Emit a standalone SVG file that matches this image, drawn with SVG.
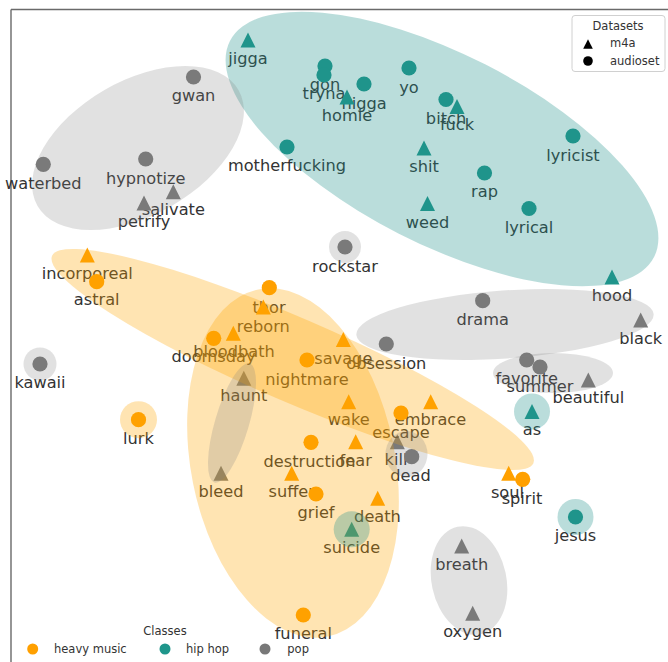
<svg xmlns="http://www.w3.org/2000/svg" xmlns:xlink="http://www.w3.org/1999/xlink" width="668" height="662" viewBox="0 0 668 662">
<style>
text{font-family:"DejaVu Sans","Liberation Sans",sans-serif;}
.lbl{font-size:16.2px;fill:#333;text-anchor:middle;}
.leg{font-size:11.5px;fill:#333;}
.hm{fill:#ffa000;}
.hh{fill:#1f968b;}
.pp{fill:#787878;}
.eo{fill:#ffa500;fill-opacity:0.3;}
.et{fill:#21918c;fill-opacity:0.31;}
.eg{fill:#808080;fill-opacity:0.24;}
</style>
<defs>
<path id="tri" d="M0,-7.5 L7.5,7.5 L-7.5,7.5Z"/>
<circle id="dot" r="7.6"/>
</defs>
<rect width="668" height="662" fill="#fff"/>
<path d="M11,9.5 H668 M11,9.5 V662" stroke="#6a6a6a" stroke-width="1.4" fill="none"/>

<g id="nodes">
<!-- hip hop -->
<g id="n-jigga"><use xlink:href="#tri" x="248" y="40" class="hh"/><text class="lbl" x="248" y="64">jigga</text></g>
<g id="n-gon"><use xlink:href="#dot" x="325" y="66" class="hh"/><text class="lbl" x="325" y="90">gon</text></g>
<g id="n-tryna"><use xlink:href="#dot" x="324" y="75" class="hh"/><text class="lbl" x="324" y="99">tryna</text></g>
<g id="n-nigga"><use xlink:href="#dot" x="364" y="84" class="hh"/><text class="lbl" x="364" y="108.5">nigga</text></g>
<g id="n-homie"><use xlink:href="#tri" x="347" y="97" class="hh"/><text class="lbl" x="347" y="121">homie</text></g>
<g id="n-yo"><use xlink:href="#dot" x="409" y="68" class="hh"/><text class="lbl" x="409" y="92.5">yo</text></g>
<g id="n-bitch"><use xlink:href="#dot" x="446" y="99.5" class="hh"/><text class="lbl" x="446" y="124">bitch</text></g>
<g id="n-fuck"><use xlink:href="#tri" x="457" y="106.5" class="hh"/><text class="lbl" x="457" y="130">fuck</text></g>
<g id="n-motherfucking"><use xlink:href="#dot" x="287" y="147" class="hh"/><text class="lbl" x="287" y="171">motherfucking</text></g>
<g id="n-shit"><use xlink:href="#tri" x="424" y="148" class="hh"/><text class="lbl" x="424" y="172">shit</text></g>
<g id="n-lyricist"><use xlink:href="#dot" x="573" y="136" class="hh"/><text class="lbl" x="573" y="160.5">lyricist</text></g>
<g id="n-rap"><use xlink:href="#dot" x="484.5" y="173" class="hh"/><text class="lbl" x="484.5" y="197">rap</text></g>
<g id="n-weed"><use xlink:href="#tri" x="427.5" y="203.5" class="hh"/><text class="lbl" x="427.5" y="227.5">weed</text></g>
<g id="n-lyrical"><use xlink:href="#dot" x="529" y="208.5" class="hh"/><text class="lbl" x="529" y="232.5">lyrical</text></g>
<g id="n-hood"><use xlink:href="#tri" x="612" y="277" class="hh"/><text class="lbl" x="612" y="301">hood</text></g>
<g id="n-as"><use xlink:href="#tri" x="532" y="411.5" class="hh"/><text class="lbl" x="532" y="435">as</text></g>
<g id="n-jesus"><use xlink:href="#dot" x="575.5" y="517" class="hh"/><text class="lbl" x="575.5" y="540.5">jesus</text></g>
<g id="n-suicide"><use xlink:href="#tri" x="351.7" y="529.3" class="hh"/><text class="lbl" x="351.7" y="553">suicide</text></g>
<!-- pop -->
<g id="n-gwan"><use xlink:href="#dot" x="193.5" y="77" class="pp"/><text class="lbl" x="193.5" y="101">gwan</text></g>
<g id="n-waterbed"><use xlink:href="#dot" x="43.3" y="164.3" class="pp"/><text class="lbl" x="43.3" y="189">waterbed</text></g>
<g id="n-hypnotize"><use xlink:href="#dot" x="145.7" y="159" class="pp"/><text class="lbl" x="145.7" y="183.5">hypnotize</text></g>
<g id="n-salivate"><use xlink:href="#tri" x="173.3" y="191.7" class="pp"/><text class="lbl" x="173.3" y="215">salivate</text></g>
<g id="n-petrify"><use xlink:href="#tri" x="144" y="203" class="pp"/><text class="lbl" x="144" y="227">petrify</text></g>
<g id="n-rockstar"><use xlink:href="#dot" x="345" y="247" class="pp"/><text class="lbl" x="345" y="271.5">rockstar</text></g>
<g id="n-drama"><use xlink:href="#dot" x="482.7" y="300.7" class="pp"/><text class="lbl" x="482.7" y="325">drama</text></g>
<g id="n-black"><use xlink:href="#tri" x="640.7" y="320" class="pp"/><text class="lbl" x="640.7" y="344">black</text></g>
<g id="n-obsession"><use xlink:href="#dot" x="386.3" y="344" class="pp"/><text class="lbl" x="386.3" y="368.5">obsession</text></g>
<g id="n-kawaii"><use xlink:href="#dot" x="40" y="364" class="pp"/><text class="lbl" x="40" y="388">kawaii</text></g>
<g id="n-favorite"><use xlink:href="#dot" x="526.7" y="360" class="pp"/><text class="lbl" x="526.7" y="384">favorite</text></g>
<g id="n-summer"><use xlink:href="#dot" x="540" y="367" class="pp"/><text class="lbl" x="540" y="391.5">summer</text></g>
<g id="n-beautiful"><use xlink:href="#tri" x="588.3" y="380" class="pp"/><text class="lbl" x="588.3" y="403">beautiful</text></g>
<g id="n-haunt"><use xlink:href="#tri" x="243.8" y="378.3" class="pp"/><text class="lbl" x="243.8" y="401">haunt</text></g>
<g id="n-kill"><use xlink:href="#tri" x="397.3" y="441.7" class="pp"/><text class="lbl" x="396" y="464.5">kill</text></g>
<g id="n-dead"><use xlink:href="#dot" x="411.7" y="456.7" class="pp"/><text class="lbl" x="410.5" y="481">dead</text></g>
<g id="n-bleed"><use xlink:href="#tri" x="221" y="473.3" class="pp"/><text class="lbl" x="221" y="497">bleed</text></g>
<g id="n-breath"><use xlink:href="#tri" x="461.7" y="546" class="pp"/><text class="lbl" x="461.7" y="570">breath</text></g>
<g id="n-oxygen"><use xlink:href="#tri" x="472.7" y="613.3" class="pp"/><text class="lbl" x="472.7" y="637">oxygen</text></g>
<!-- heavy music -->
<g id="n-incorporeal"><use xlink:href="#tri" x="87.3" y="255" class="hm"/><text class="lbl" x="87.3" y="278.5">incorporeal</text></g>
<g id="n-astral"><use xlink:href="#dot" x="96.7" y="281.7" class="hm"/><text class="lbl" x="96.7" y="305">astral</text></g>
<g id="n-thor"><use xlink:href="#dot" x="269.3" y="287.7" class="hm"/><text class="lbl" x="269" y="313">thor</text></g>
<g id="n-reborn"><use xlink:href="#tri" x="263.3" y="307" class="hm"/><text class="lbl" x="263.3" y="331.5">reborn</text></g>
<g id="n-bloodbath"><use xlink:href="#tri" x="233.3" y="333.3" class="hm"/><text class="lbl" x="234" y="357">bloodbath</text></g>
<g id="n-doomsday"><use xlink:href="#dot" x="213.7" y="338.3" class="hm"/><text class="lbl" x="213.5" y="362">doomsday</text></g>
<g id="n-savage"><use xlink:href="#tri" x="343.3" y="339.5" class="hm"/><text class="lbl" x="343.3" y="364">savage</text></g>
<g id="n-nightmare"><use xlink:href="#dot" x="307" y="360" class="hm"/><text class="lbl" x="307" y="385">nightmare</text></g>
<g id="n-wake"><use xlink:href="#tri" x="348.7" y="401.7" class="hm"/><text class="lbl" x="348.7" y="425">wake</text></g>
<g id="n-embrace"><use xlink:href="#tri" x="430.7" y="401.7" class="hm"/><text class="lbl" x="430.5" y="424.5">embrace</text></g>
<g id="n-escape"><use xlink:href="#dot" x="401" y="413" class="hm"/><text class="lbl" x="401" y="437.5">escape</text></g>
<g id="n-lurk"><use xlink:href="#dot" x="138.5" y="419.7" class="hm"/><text class="lbl" x="138.5" y="444">lurk</text></g>
<g id="n-destruction"><use xlink:href="#dot" x="311" y="442.3" class="hm"/><text class="lbl" x="309.5" y="466.7">destruction</text></g>
<g id="n-fear"><use xlink:href="#tri" x="355.7" y="441.7" class="hm"/><text class="lbl" x="355.7" y="465.5">fear</text></g>
<g id="n-suffer"><use xlink:href="#tri" x="291.7" y="473.3" class="hm"/><text class="lbl" x="291.7" y="497">suffer</text></g>
<g id="n-grief"><use xlink:href="#dot" x="316" y="494" class="hm"/><text class="lbl" x="316" y="518">grief</text></g>
<g id="n-death"><use xlink:href="#tri" x="377.7" y="498.3" class="hm"/><text class="lbl" x="377.5" y="522">death</text></g>
<g id="n-soul"><use xlink:href="#tri" x="508.7" y="473.3" class="hm"/><text class="lbl" x="507.5" y="497.5">soul</text></g>
<g id="n-spirit"><use xlink:href="#dot" x="522.7" y="479.3" class="hm"/><text class="lbl" x="522" y="503.5">spirit</text></g>
<g id="n-funeral"><use xlink:href="#dot" x="303.3" y="615" class="hm"/><text class="lbl" x="303.3" y="639">funeral</text></g>
</g>

<g id="connectors"></g>

<g id="clusters">
<ellipse class="et" cx="442" cy="149" rx="238" ry="95" transform="rotate(27 442 149)"/>
<ellipse class="eg" cx="138" cy="148" rx="116" ry="67" transform="rotate(-30 138 148)"/>
<ellipse class="eo" cx="292.7" cy="359.5" rx="262" ry="42" transform="rotate(23.3 292.7 359.5)"/>
<ellipse class="eo" cx="293" cy="463" rx="102" ry="177" transform="rotate(-11.3 293 463)"/>
<ellipse class="eg" cx="232" cy="423" rx="17" ry="62" transform="rotate(16.5 232 423)"/>
<ellipse class="eg" cx="505" cy="324.5" rx="149" ry="34" transform="rotate(-4 505 324.5)"/>
<ellipse class="eg" cx="553" cy="373" rx="60" ry="20"/>
<ellipse class="eg" cx="406.5" cy="454" rx="21" ry="23"/>
<ellipse class="eg" cx="469" cy="580.5" rx="37.4" ry="55" transform="rotate(-12 469 580.5)"/>
<circle class="eg" cx="345" cy="247" r="16"/>
<circle class="eg" cx="40" cy="364" r="16.5"/>
<circle class="eo" cx="138.5" cy="419.7" r="18.5"/>
<circle class="et" cx="532" cy="411.5" r="18"/>
<circle class="et" cx="575.5" cy="517" r="18"/>
<circle class="et" cx="351.7" cy="529.3" r="18"/>
</g>

<g id="legend-datasets">
<rect x="572" y="15.5" width="93" height="56" rx="3" fill="#fff" fill-opacity="0.8" stroke="#d0d0d0" stroke-width="1"/>
<text class="leg" x="618" y="29.5" text-anchor="middle">Datasets</text>
<path d="M588,39.3 L592.8,48.7 L583.2,48.7Z" fill="#000"/>
<circle cx="588" cy="61" r="4.8" fill="#000"/>
<text class="leg" x="610" y="47">m4a</text>
<text class="leg" x="610" y="64.5">audioset</text>
</g>

<g id="legend-classes">
<text class="leg" x="165" y="635" text-anchor="middle">Classes</text>
<circle cx="32.7" cy="649" r="5.5" class="hm"/>
<text class="leg" x="54" y="653">heavy music</text>
<circle cx="165" cy="649" r="5.5" class="hh"/>
<text class="leg" x="186" y="653">hip hop</text>
<circle cx="265" cy="649" r="5.5" class="pp"/>
<text class="leg" x="287.3" y="653">pop</text>
</g>
</svg>
